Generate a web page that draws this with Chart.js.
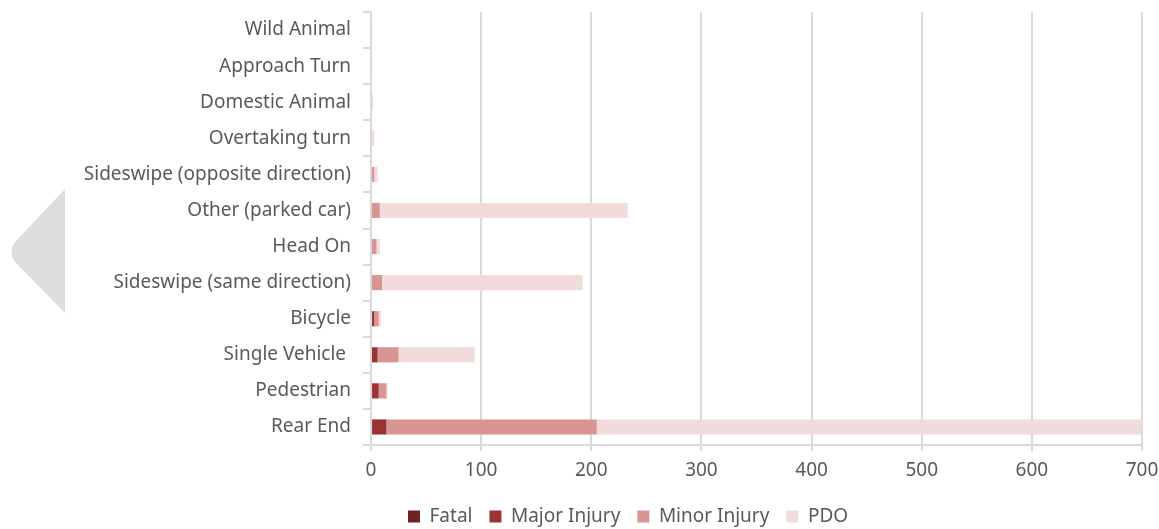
<!DOCTYPE html>
<html>
<head>
<meta charset="utf-8">
<script src="https://cdn.jsdelivr.net/npm/chart.js@4/dist/chart.umd.min.js"></script>
<style>
  html, body { margin: 0; padding: 0; background: #ffffff; }
  #wrap { position: relative; width: 1159px; height: 529px; }
  #chart { position: absolute; left: 0; top: 0; }
  #prev { position: absolute; left: 0; top: 0; pointer-events: none; }
</style>
</head>
<body>
<div id="wrap">
  <canvas id="chart" width="1159" height="529"></canvas>
  <svg id="prev" width="1159" height="529">
    <path d="M65 189 L65 313 L15 262 Q8 252 15 242 Z" fill="#dcdddf"/>
  </svg>
</div>
<script>
// Collision types, top-to-bottom order on the y axis
const collisionTypes = [
  'Wild Animal', 'Approach Turn', 'Domestic Animal', 'Overtaking turn',
  'Sideswipe (opposite direction)', 'Other (parked car)', 'Head On',
  'Sideswipe (same direction)', 'Bicycle', 'Single Vehicle ', 'Pedestrian', 'Rear End'
];

// Crash counts by severity
const fatal        = [0, 0, 0, 0, 0, 0, 0, 0, 1, 0, 1, 1];
const majorInjury  = [0, 0, 0, 0, 0, 0, 0, 1, 2, 6, 6, 13];
const minorInjury  = [0, 0, 0, 0, 3, 8, 5, 9, 4, 19, 7, 191];
const pdo          = [1, 1, 2, 3, 3, 225, 3, 182, 2, 69, 1, 495];

const xTicks = [0, 100, 200, 300, 400, 500, 600, 700];

const severityNames  = ['Fatal', 'Major Injury', 'Minor Injury', 'PDO'];
const severityColors = ['#6b2324', '#993334', '#d99594', '#f2dbdb'];
const seriesValues   = [fatal, majorInjury, minorInjury, pdo];

const textColor = '#595959';
const gridColor = '#d9d9d9';
const fontFamily = "'Noto Sans', 'Liberation Sans', sans-serif";

// Place the legend row: starts at x=391 (+padding), text line centred near y=517
const legendPlace = {
  id: 'legendPlace',
  afterLayout(chart) {
    const lg = chart.legend;
    if (!lg) return;
    const h = lg.height;
    lg.left = 391;
    lg.top = 490;
    lg.bottom = lg.top + h;
  }
};

new Chart(document.getElementById('chart'), {
  type: 'bar',
  data: {
    labels: collisionTypes,
    datasets: seriesValues.map((vals, i) => ({
      label: severityNames[i],
      data: vals,
      backgroundColor: severityColors[i],
      borderWidth: 0,
      barPercentage: 0.42,
      categoryPercentage: 1.0
    }))
  },
  plugins: [legendPlace],
  options: {
    indexAxis: 'y',
    responsive: false,
    animation: false,
    maintainAspectRatio: false,
    layout: { padding: { top: 12, right: 17, left: 0, bottom: 0 } },
    plugins: {
      tooltip: { enabled: false },
      legend: {
        position: 'bottom',
        align: 'start',
        labels: {
          color: textColor,
          font: { family: fontFamily, size: 19 },
          boxWidth: 12,
          boxHeight: 12,
          padding: 17
        }
      }
    },
    scales: {
      x: {
        stacked: true,
        min: 0,
        max: 700,
        afterBuildTicks: (s) => { s.ticks = xTicks.map(v => ({ value: v })); },
        ticks: { color: textColor, font: { family: fontFamily, size: 19 }, padding: 8 },
        grid: { color: gridColor, lineWidth: 2, tickLength: 6, tickColor: gridColor },
        border: { color: gridColor, width: 2 },
        afterFit: (s) => { s.height = 38; s.paddingLeft = 0; s.paddingRight = 0; }
      },
      y: {
        stacked: true,
        ticks: { color: textColor, font: { family: fontFamily, size: 19 }, padding: 12 },
        grid: { drawOnChartArea: false, color: gridColor, lineWidth: 2, tickLength: 8, offset: true },
        border: { color: gridColor, width: 2 },
        afterFit: (s) => { s.width = 371; s.paddingTop = 0; s.paddingBottom = 0; }
      }
    }
  }
});
</script>
</body>
</html>
